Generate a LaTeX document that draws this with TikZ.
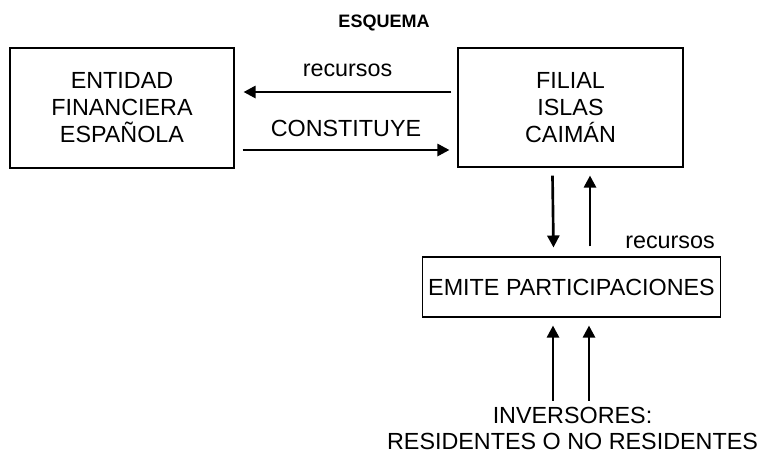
\documentclass[tikz,border=0pt]{standalone}
\usepackage{fontspec}
\setmainfont{Liberation Sans}
\usepackage{tikz}
\usetikzlibrary{arrows.meta,calc}

\begin{document}
\begin{tikzpicture}[x=0.75pt, y=-0.75pt, >={Triangle[length=9pt,width=9pt]},
    every node/.style={font=\fontsize{17.5}{20.25}\selectfont},
    box/.style={draw, line width=0.8pt, align=center, inner sep=0pt},
    arr/.style={->, line width=2pt}]
  \useasboundingbox (0,0) rectangle (761,455);

  % Title
  \node[font=\fontsize{13.5}{16}\selectfont\bfseries] (titulo) at (384,23) {ESQUEMA};

  % Boxes
  \node[box, minimum width=168pt, minimum height=90pt] (ent) at (122,108)
    {ENTIDAD\\FINANCIERA\\ESPAÑOLA};
  \node[box, minimum width=168.75pt, minimum height=89.25pt] (fil) at (570.5,107.5)
    {FILIAL\\ISLAS\\CAIMÁN};
  \node[box, minimum width=224pt, minimum height=45pt] (emi) at (571.5,287)
    {EMITE PARTICIPACIONES};

  % Inversores
  \node[align=center, font=\fontsize{17.5}{19.5}\selectfont] (inv) at (572.5,428)
    {INVERSORES:\\RESIDENTES O NO RESIDENTES};

  % Horizontal arrows
  \draw[arr] ($(fil.west)+(-6,-15.5)$) -- node[midway, yshift=16.5pt] (lrec) {recursos}
    ($(ent.east)+(9,-16)$);
  \draw[arr] ($(ent.east)+(8,42)$) -- node[midway, yshift=16.5pt] (lcon) {CONSTITUYE}
    ($(fil.west)+(-8,42.5)$);

  % Vertical arrows
  \draw[arr] ($(fil.south)+(-18,8)$) -- ($(emi.north)+(-18,-9)$);
  \draw[arr] ($(emi.north)+(18.5,-10)$) -- ($(fil.south)+(19.5,8)$);
  \node (rrec) at (670,242) {recursos};

  \draw[arr] ($(emi.south)+(-18.5,83)$) -- ($(emi.south)+(-18.5,8)$);
  \draw[arr] ($(emi.south)+(17.5,83)$) -- ($(emi.south)+(17.5,8)$);
\end{tikzpicture}
\end{document}
